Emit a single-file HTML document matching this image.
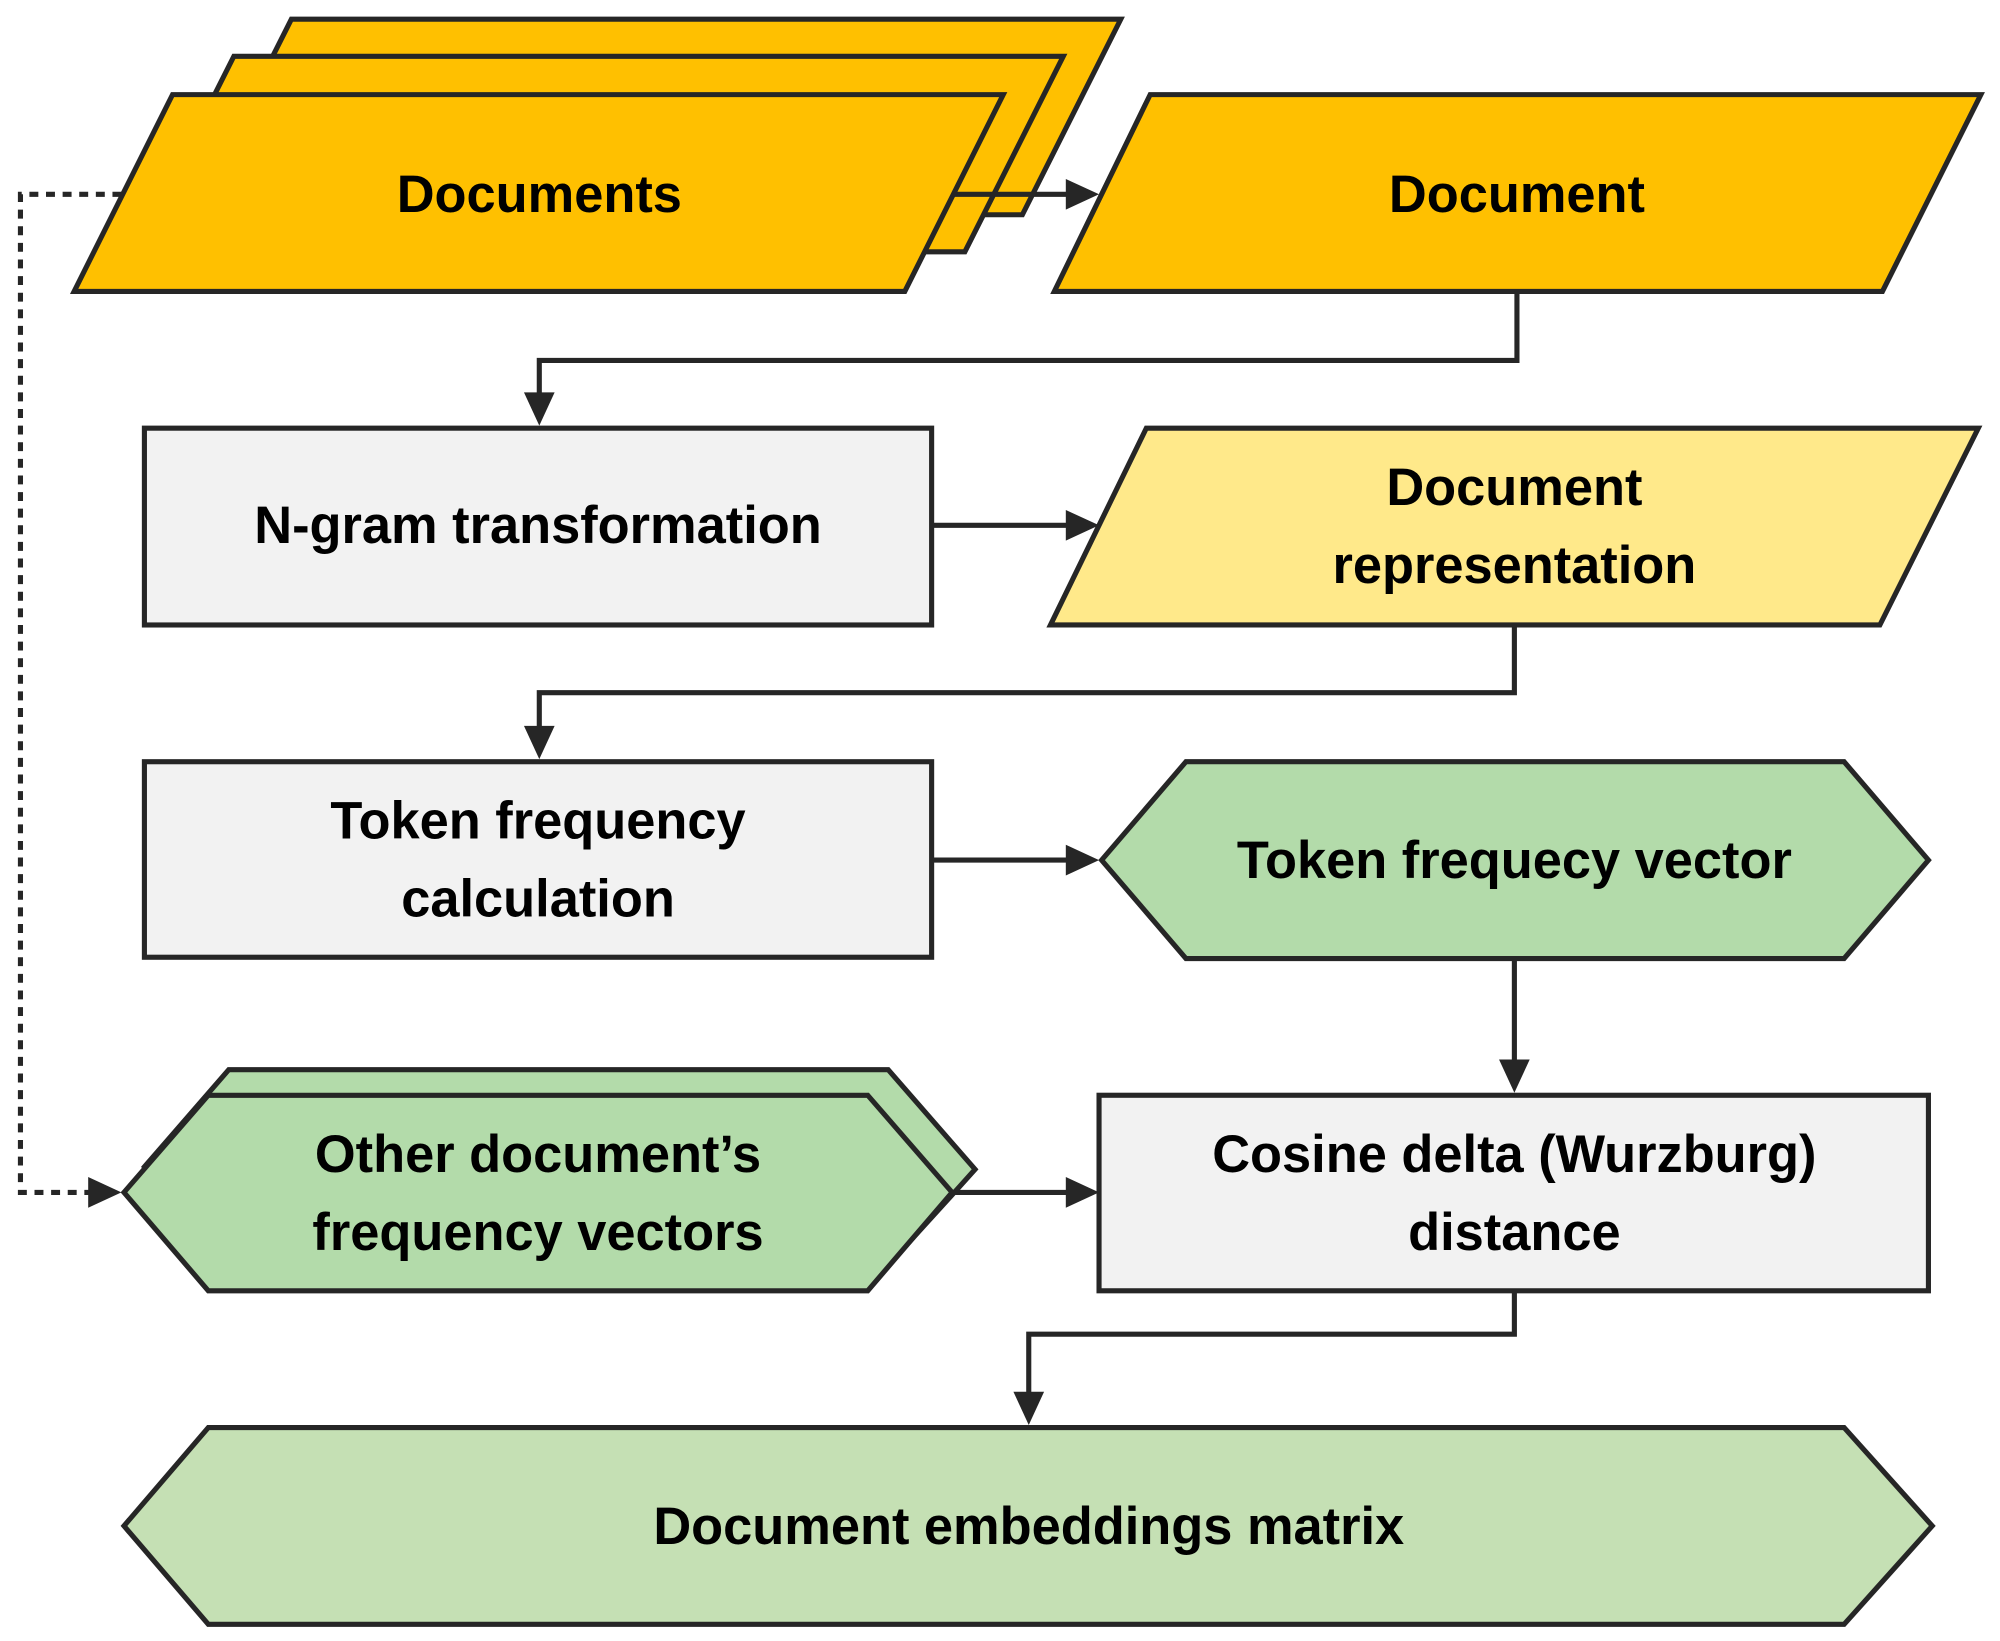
<!DOCTYPE html>
<html><head><meta charset="utf-8"><style>
html,body{margin:0;padding:0;background:#fff;}
svg{display:block;}
text{font-family:"Liberation Sans",sans-serif;font-weight:bold;font-size:41px;fill:#000;text-anchor:middle;}
</style></head><body>
<svg width="2000" height="1641" viewBox="0 0 1565 1284" xmlns="http://www.w3.org/2000/svg">
<g stroke="#262626" stroke-width="4" fill="none">
<polyline points="95,152 16,152 16,933 72,933" stroke-dasharray="7,6"/>
</g>
<g stroke="#262626" stroke-width="4" stroke-linejoin="miter">
<polygon points="228,15 877,15 800,168 151,168" fill="#ffc000"/>
<polygon points="183,44 832,44 755,197 106,197" fill="#ffc000"/>
<polygon points="135,74 785,74 708,228 58,228" fill="#ffc000"/>
<polygon points="900,74 1550,74 1473,228 825,228" fill="#ffc000"/>
<rect x="113" y="335" width="616" height="154" fill="#f2f2f2"/>
<polygon points="897,335 1548,335 1471,489 822,489" fill="#ffe98a"/>
<rect x="113" y="596" width="616" height="153" fill="#f2f2f2"/>
<polygon points="862,673 928,596 1443,596 1509,673 1443,750 928,750" fill="#b3dbaa"/>
<rect x="860" y="857" width="649" height="153" fill="#f2f2f2"/>
<polygon points="113,913 179,837 695,837 763,915 745,935 695,990 179,990" fill="#b3dbaa"/>
<polygon points="97,933 163,857 679,857 745,933 679,1010 163,1010" fill="#b3dbaa"/>
<polygon points="97,1194 163,1117 1443,1117 1512,1194 1443,1271 163,1271" fill="#c5e0b4"/>
</g>
<g stroke="#262626" stroke-width="4" fill="none">
<polyline points="745,152 835,152"/>
<polyline points="1187,228 1187,282 422,282 422,310"/>
<polyline points="729,411 835,411"/>
<polyline points="1185,489 1185,542 422,542 422,570"/>
<polyline points="729,673 835,673"/>
<polyline points="1185,750 1185,830"/>
<polyline points="745,933 835,933"/>
<polyline points="1185,1010 1185,1044 805,1044 805,1090"/>
</g>
<g fill="#262626">
<polygon points="860,152 834,140 834,164"/>
<polygon points="422,333 410,307 434,307"/>
<polygon points="860,411 834,399 834,423"/>
<polygon points="422,594 410,568 434,568"/>
<polygon points="860,673 834,661 834,685"/>
<polygon points="1185,855 1173,829 1197,829"/>
<polygon points="860,933 834,921 834,945"/>
<polygon points="95,933 69,921 69,945"/>
<polygon points="805,1115 793,1089 817,1089"/>
</g>
<text x="422" y="166">Documents</text>
<text x="1187" y="166">Document</text>
<text x="421" y="425">N-gram transformation</text>
<text x="1185" y="395">Document</text>
<text x="1185" y="456">representation</text>
<text x="421" y="656">Token frequency</text>
<text x="421" y="717">calculation</text>
<text x="1185" y="687">Token frequecy vector</text>
<text x="421" y="917">Other document’s</text>
<text x="421" y="978">frequency vectors</text>
<text x="1185" y="917">Cosine delta (Wurzburg)</text>
<text x="1185" y="978">distance</text>
<text x="805" y="1208">Document embeddings matrix</text>
</svg>
</body></html>
